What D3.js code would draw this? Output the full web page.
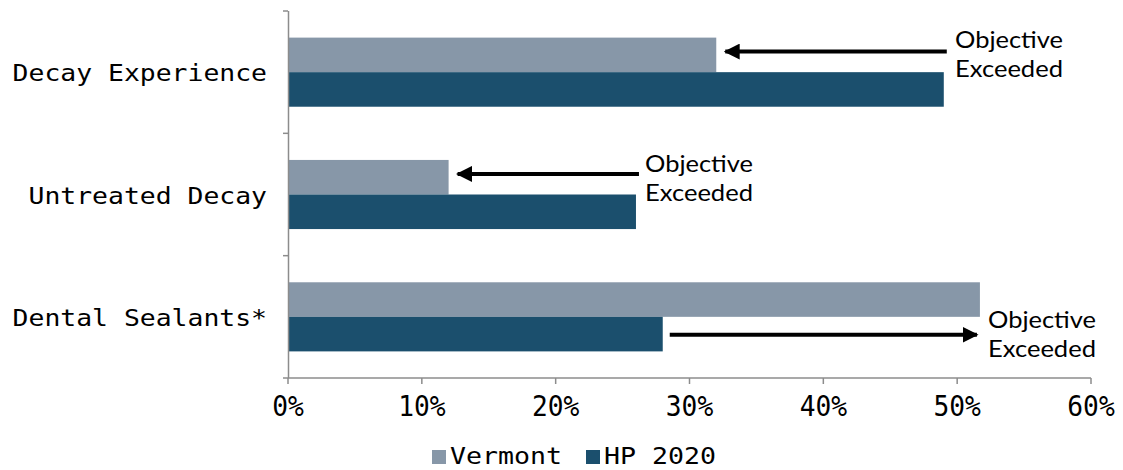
<!DOCTYPE html>
<html><head><meta charset="utf-8">
<script src="https://cdn.jsdelivr.net/npm/d3@7"></script>
<style>body{margin:0;background:#fff}</style>
</head><body>
<script>
const categories = ["Decay Experience", "Untreated Decay", "Dental Sealants*"];
const seriesNames = ["Vermont", "HP 2020"];
const vermont = [32, 12, 51.7];
const hp2020 = [49, 26, 28];
const xTicks = [0, 10, 20, 30, 40, 50, 60];
const annotationLines = ["Objective", "Exceeded"];
// arrow: from value -> to value, which bar row (0 = Vermont row, 1 = HP row)
const arrows = [
  {cat: 0, from: 49, to: 32, row: 0},
  {cat: 1, from: 26, to: 12, row: 0},
  {cat: 2, from: 28, to: 51.7, row: 1}
];
const colors = ["#8797a8", "#1b4f6d"];

const W = 1123, H = 470;
const svg = d3.select("body").append("svg").attr("width", W).attr("height", H);

const x = d3.scaleLinear().domain([0, 60]).range([288, 1091]);
const y = d3.scaleBand().domain(categories).range([11, 378]).padding(0);
const ys = d3.scaleBand().domain(seriesNames).range([0, y.bandwidth()]).paddingInner(0).paddingOuter(0.77);

const data = categories.map((c, i) => ({cat: c, vals: [vermont[i], hp2020[i]]}));

const g = svg.append("g");
data.forEach(d => {
  d.vals.forEach((v, j) => {
    g.append("rect")
      .attr("x", x(0))
      .attr("y", y(d.cat) + ys(seriesNames[j]))
      .attr("width", x(v) - x(0))
      .attr("height", ys.bandwidth())
      .attr("fill", colors[j]);
  });
});

// axes
const axisColor = "#8c8c8c";
svg.append("line").attr("x1", x(0)+0.5).attr("x2", x(0)+0.5).attr("y1", 11).attr("y2", 378).attr("stroke", axisColor).attr("stroke-width", 1.5);
const bounds = [11, ...categories.map(c => y(c) + y.bandwidth())];
bounds.forEach(b => {
  svg.append("line").attr("x1", x(0) - 5).attr("x2", x(0)).attr("y1", b).attr("y2", b).attr("stroke", axisColor).attr("stroke-width", 1.5);
});
svg.append("line").attr("x1", x(0)).attr("x2", x(60)).attr("y1", 378).attr("y2", 378).attr("stroke", axisColor).attr("stroke-width", 1.5);
xTicks.forEach(t => {
  svg.append("line").attr("x1", x(t)).attr("x2", x(t)).attr("y1", 378).attr("y2", 384).attr("stroke", axisColor).attr("stroke-width", 1.5);
  const label = t + "%";
  svg.append("text").attr("x", x(t)).attr("y", 416)
    .attr("text-anchor", "middle")
    .attr("font-family", "DejaVu Sans Mono")
    .attr("font-size", 29)
    .attr("textLength", label.length * 15.8)
    .attr("lengthAdjust", "spacingAndGlyphs")
    .attr("fill", "#000")
    .text(label);
});

// category labels
categories.forEach(c => {
  svg.append("text").attr("x", 267).attr("y", y(c) + y.bandwidth()/2 + 9)
    .attr("text-anchor", "end")
    .attr("font-family", "DejaVu Sans Mono")
    .attr("font-size", 23.5)
    .attr("textLength", c.length * 15.9)
    .attr("lengthAdjust", "spacingAndGlyphs")
    .attr("fill", "#000")
    .text(c);
});

// arrows
const defs = svg.append("defs");
defs.append("marker").attr("id", "ah").attr("viewBox", "0 0 10 10")
  .attr("refX", 9).attr("refY", 5).attr("markerWidth", 4).attr("markerHeight", 4)
  .attr("markerUnits", "strokeWidth").attr("orient", "auto")
  .append("path").attr("d", "M0,0 L10,5 L0,10 Z").attr("fill", "#000");

arrows.forEach(a => {
  const cy = y(categories[a.cat]) + ys(seriesNames[a.row]) + (a.row === 0 ? 14 : 18);
  const dir = a.to > a.from ? 1 : -1;
  const x1 = x(a.from) - dir * (dir > 0 ? -7 : 3);
  const x2 = x(a.to) + (dir > 0 ? -3 : 9);
  svg.append("line").attr("x1", x1).attr("x2", x2).attr("y1", cy).attr("y2", cy)
    .attr("stroke", "#000").attr("stroke-width", 4).attr("marker-end", "url(#ah)");
});

// annotation texts
const annPos = [[955, 48], [645, 172], [988, 328]];
annPos.forEach(p => {
  annotationLines.forEach((l, i) => {
    svg.append("text").attr("x", p[0]).attr("y", p[1] + i * 29)
      .attr("font-family", "Lato").attr("font-size", 24).attr("fill", "#000")
      .attr("textLength", 108).attr("lengthAdjust", "spacingAndGlyphs")
      .text(l);
  });
});

// legend
const legX = [432, 586];
seriesNames.forEach((s, i) => {
  svg.append("rect").attr("x", legX[i]).attr("y", 450).attr("width", 14).attr("height", 14).attr("fill", colors[i]);
  svg.append("text").attr("x", legX[i] + 18).attr("y", 464)
    .attr("font-family", "DejaVu Sans Mono").attr("font-size", 23)
    .attr("textLength", s.length * 16).attr("lengthAdjust", "spacingAndGlyphs")
    .attr("fill", "#000").text(s);
});
</script>
</body></html>
